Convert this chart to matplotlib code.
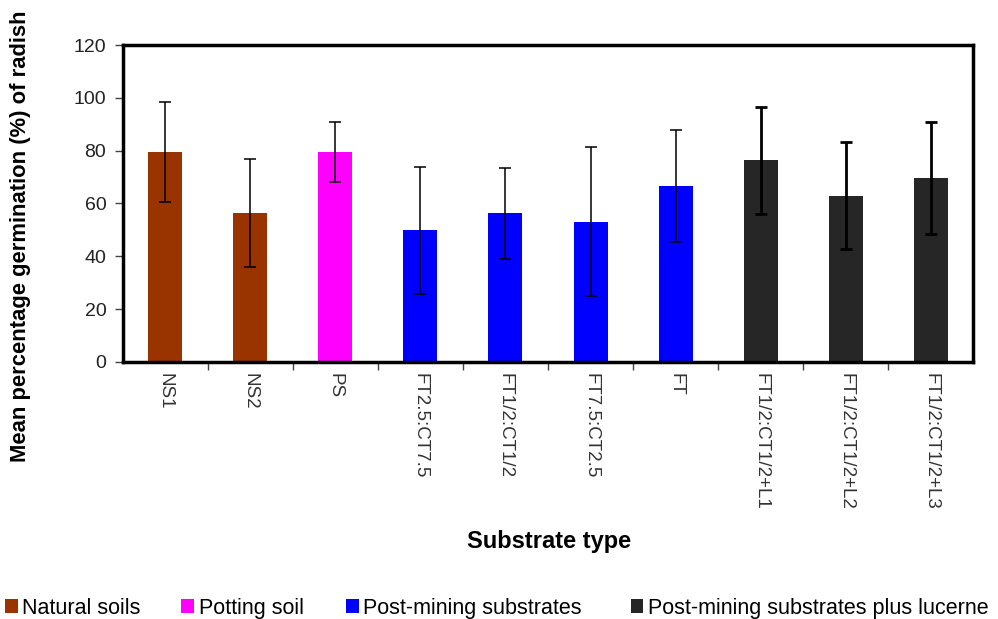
import matplotlib
matplotlib.use("Agg")
import matplotlib.pyplot as plt
from matplotlib.patches import Patch

plt.rcParams['font.family'] = ['Liberation Sans', 'DejaVu Sans']

categories = ["NS1", "NS2", "PS", "FT2.5:CT7.5", "FT1/2:CT1/2", "FT7.5:CT2.5", "FT",
              "FT1/2:CT1/2+L1", "FT1/2:CT1/2+L2", "FT1/2:CT1/2+L3"]
means = [79.5, 56.3, 79.5, 49.8, 56.3, 53.1, 66.5, 76.3, 62.9, 69.8]
errors = [19.0, 20.4, 11.2, 24.1, 17.2, 28.2, 21.2, 20.4, 20.2, 21.2]
groups = ["Natural soils", "Natural soils", "Potting soil",
          "Post-mining substrates", "Post-mining substrates", "Post-mining substrates",
          "Post-mining substrates",
          "Post-mining substrates plus lucerne", "Post-mining substrates plus lucerne",
          "Post-mining substrates plus lucerne"]
group_names = ["Natural soils", "Potting soil", "Post-mining substrates",
               "Post-mining substrates plus lucerne"]
group_colors = {"Natural soils": "#993300", "Potting soil": "#FF00FF",
                "Post-mining substrates": "#0000FF",
                "Post-mining substrates plus lucerne": "#262626"}
yticks = [0, 20, 40, 60, 80, 100, 120]

fig = plt.figure(figsize=(9.98, 6.19), dpi=100)
ax = fig.add_axes([0.1232, 0.4152, 0.8518, 0.5121])

x = list(range(len(categories)))
colors = [group_colors[g] for g in groups]
ax.bar(x, means, width=0.4, color=colors, zorder=2)
for i in x:
    lw = 2.0 if groups[i] == "Post-mining substrates plus lucerne" else 1.1
    ax.errorbar(i, means[i], yerr=errors[i], fmt='none', ecolor='black',
                elinewidth=lw, capsize=4.5, capthick=lw, zorder=3)

ax.set_xlim(-0.5, len(categories) - 0.5)
ax.set_ylim(0, 120)
ax.set_yticks(yticks)
ax.set_yticklabels([str(v) for v in yticks], fontsize=14, color='#222222')
ax.set_xticks([i + 0.5 for i in x[:-1]], minor=False)
ax.set_xticklabels([])
ax.set_xticks(x, minor=True)
ax.set_xticklabels(categories, minor=True, rotation=270, fontsize=13.5,
                   color='#333333', va='top', ha='center')
ax.tick_params(axis='x', which='major', direction='out', length=6, width=1, color='#444444')
ax.tick_params(axis='x', which='minor', length=0, pad=8)
ax.tick_params(axis='y', direction='out', length=6, width=1, color='#444444', pad=6)
for s in ax.spines.values():
    s.set_linewidth(2.5)
    s.set_color('black')

fig.text(0.021, 0.618, "Mean percentage germination (%) of radish", fontsize=15.8,
         fontweight='bold', rotation=90, ha='center', va='center')
fig.text(0.55, 0.125, "Substrate type", fontsize=17, fontweight='bold',
         ha='center', va='center')

legend_x = [-0.006, 0.171, 0.336, 0.621]
for g, lx in zip(group_names, legend_x):
    fig.legend([Patch(facecolor=group_colors[g], edgecolor='none')], [g],
               loc='lower left', bbox_to_anchor=(lx, -0.017), frameon=False,
               fontsize=15.5, handlelength=0.6, handleheight=0.6,
               handletextpad=0.2, borderaxespad=0.2, borderpad=0.3)

fig.savefig("out.png", dpi=100)
